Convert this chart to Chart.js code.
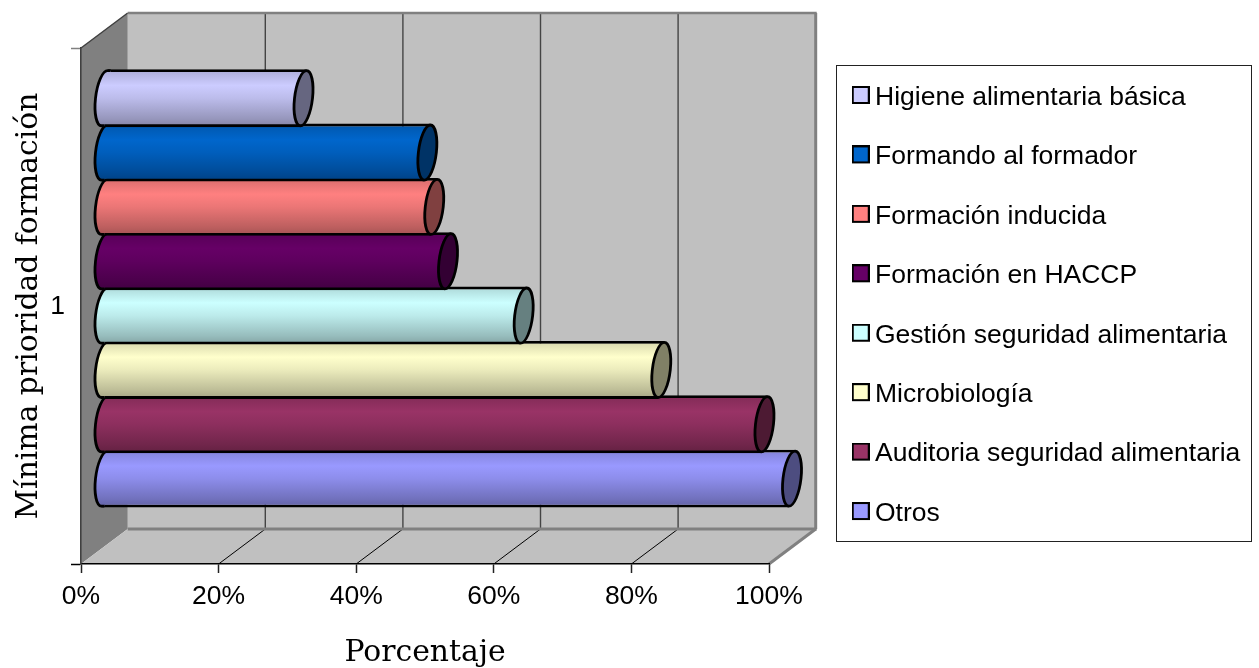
<!DOCTYPE html>
<html><head><meta charset="utf-8">
<style>html,body{margin:0;padding:0;background:#fff;overflow:hidden}canvas{display:block}</style>
<script src="https://cdn.jsdelivr.net/npm/chart.js@4"></script>
</head><body><canvas id="c" width="1259" height="668"></canvas>
<script>
const categories = ['1'];
const seriesNames = ['Higiene alimentaria básica','Formando al formador','Formación inducida','Formación en HACCP','Gestión seguridad alimentaria','Microbiología','Auditoria seguridad alimentaria','Otros'];
const seriesValues = [29,47,48,50,61,81,96,100];
const seriesColors = ['#CCCCFF','#0066CC','#FF8080','#660066','#CCFFFF','#FFFFCC','#993366','#9999FF'];
const xTitle = 'Porcentaje';
const yTitle = 'Mínima prioridad formación';

const SANS = '"Liberation Sans", Arial, sans-serif';
const SERIF = '"DejaVu Serif", serif';
const WALL_DX = 46.7, WALL_DY = 35;
const BAR_DX = 23, BAR_DY = -17.6, SHEAR = -0.11, CAP_RX = 9, LINE = 2.8;

function shade(hex, f){
  const n = parseInt(hex.slice(1),16);
  const c = [n>>16&255,n>>8&255,n&255].map(v=>Math.round(v*f));
  return `rgb(${c[0]},${c[1]},${c[2]})`;
}
function swatch(color){
  // taller than the square so the square sits slightly above the text's centre line
  const s = document.createElement('canvas'); s.width = 18; s.height = 23;
  const g = s.getContext('2d');
  g.fillStyle = '#000'; g.fillRect(0,0,18,18);
  g.fillStyle = color; g.fillRect(2,2,14,14);
  return s;
}
function poly(ctx, pts, fill){
  ctx.beginPath(); pts.forEach((p,i)=> i?ctx.lineTo(p[0],p[1]):ctx.moveTo(p[0],p[1])); ctx.closePath();
  ctx.fillStyle = fill; ctx.fill();
}
function line(ctx,x1,y1,x2,y2,color,w){
  ctx.beginPath(); ctx.moveTo(x1,y1); ctx.lineTo(x2,y2); ctx.strokeStyle=color; ctx.lineWidth=w; ctx.stroke();
}

const scene = {
  id:'scene',
  afterLayout(chart){
    const l = chart.legend;
    const pad = l.options.labels.padding;
    l.left = 859.75 - pad; l.right = l.left + l.width;
    l.top = 97.5 - 13.25 - pad; l.bottom = l.top + l.height;
  },
  beforeDraw(chart){
    const {ctx, chartArea:a, scales:{x}} = chart;
    ctx.save();
    const L=a.left,R=a.right,T=a.top,B=a.bottom,dx=WALL_DX,dy=WALL_DY;
    poly(ctx,[[L+dx,T-dy],[R+dx,T-dy],[R+dx,B-dy],[L+dx,B-dy]],'#C0C0C0');
    poly(ctx,[[L,T],[L+dx,T-dy],[L+dx,B-dy],[L,B]],'#808080');
    poly(ctx,[[L,B],[L+dx,B-dy],[R+dx,B-dy],[R,B]],'#C0C0C0');
    line(ctx,L,T,L+dx,T-dy,'#404040',1.5);
    x.ticks.forEach(t=>{
      const p = x.getPixelForValue(t.value);
      if(t.value>0 && t.value<100){
        line(ctx,p+dx,T-dy,p+dx,B-dy,'#444',1.4);
        line(ctx,p,B,p+dx,B-dy,'#000',1);
      }
    });
    line(ctx,L+dx,T-dy,R+dx+1,T-dy,'#808080',2.6);
    line(ctx,L+dx,B-dy,R+dx+1,B-dy,'#808080',3);
    line(ctx,R+dx,T-dy,R+dx,B-dy,'#808080',3);
    line(ctx,R,B,R+dx,B-dy,'#808080',3);
    ctx.strokeStyle='#222'; ctx.lineWidth=1;
    ctx.strokeRect(836.5,65.5,415,476);
    ctx.restore();
  },
  beforeDatasetDraw(chart,args){
    const ctx = chart.ctx, el = args.meta.data[0], color = seriesColors[args.index];
    const top = el.y - el.height/2, bot = el.y + el.height/2;
    const g = ctx.createLinearGradient(0,top,0,bot);
    g.addColorStop(0,shade(color,.84));
    g.addColorStop(.28,shade(color,1));
    g.addColorStop(.5,shade(color,.92));
    g.addColorStop(.85,shade(color,.74));
    g.addColorStop(1,shade(color,.64));
    el.options = Object.assign({},el.options,{backgroundColor:g});
    el.$grad = g;
    ctx.save();
    ctx.translate(BAR_DX,BAR_DY);
    ctx.translate(0,el.y); ctx.transform(1,0,SHEAR,1,0,0); ctx.translate(0,-el.y);
  },
  afterDatasetDraw(chart,args){
    const ctx = chart.ctx, el = args.meta.data[0], color = seriesColors[args.index];
    const ry = (el.height-LINE)/2, x0 = el.base;
    ctx.beginPath();
    ctx.moveTo(x0+3,el.y+ry);
    ctx.lineTo(x0,el.y+ry);
    ctx.ellipse(x0,el.y,CAP_RX,ry,0,Math.PI/2,Math.PI*1.5);
    ctx.lineTo(x0+3,el.y-ry);
    ctx.fillStyle = el.$grad; ctx.fill();
    ctx.strokeStyle='#000'; ctx.lineWidth=LINE; ctx.stroke();
    ctx.beginPath();
    ctx.ellipse(el.x,el.y,CAP_RX,ry,0,0,Math.PI*2);
    ctx.fillStyle = shade(color,.5); ctx.fill();
    ctx.strokeStyle='#000'; ctx.lineWidth=LINE; ctx.stroke();
    ctx.restore();
  }
};

new Chart(document.getElementById('c'),{
  type:'bar',
  plugins:[scene],
  data:{
    labels:categories,
    datasets:seriesNames.map((name,i)=>({
      label:name,
      data:[seriesValues[i]],
      backgroundColor:seriesColors[i],
      borderColor:'#000',
      borderWidth:{top:LINE,bottom:LINE,left:0,right:0},
      borderSkipped:false,
      inflateAmount:0,
      clip:false,
      categoryPercentage:.8425,
      barPercentage:1.066
    }))
  },
  options:{
    indexAxis:'y',
    responsive:false,
    animation:false,
    layout:{padding:{left:0,top:48,right:490,bottom:0}},
    events:[],
    plugins:{
      tooltip:{enabled:false},
      legend:{
        position:'chartArea',
        align:'start',
        labels:{
          usePointStyle:true,
          pointStyleWidth:2,
          padding:32.93,
          color:'#000',
          font:{family:SANS,size:26.5,lineHeight:1.2},
          generateLabels:chart=>chart.data.datasets.map((d,i)=>({
            text:d.label,datasetIndex:i,pointStyle:swatch(seriesColors[i]),
            fillStyle:seriesColors[i],strokeStyle:'#000',lineWidth:0,fontColor:'#000'
          }))
        }
      }
    },
    scales:{
      x:{
        type:'linear',min:0,max:100,
        afterFit:s=>{s.height=104},
        border:{color:'#000',width:1.6},
        grid:{drawOnChartArea:false,tickLength:9,tickColor:'#222',tickWidth:1.5},
        ticks:{stepSize:20,maxRotation:0,autoSkip:false,padding:10,color:'#000',font:{family:SANS,size:26.5,lineHeight:1},callback:v=>v+'%'},
        title:{display:true,text:xTitle,color:'#000',font:{family:SERIF,size:29.8,lineHeight:1},padding:{top:0,bottom:0}}
      },
      y:{
        type:'category',
        afterFit:s=>{s.width=81},
        border:{color:'#404040',width:1.6},
        grid:{drawOnChartArea:false,tickLength:10,tickWidth:1.5,tickColor:c=>c.index===0?'#808080':'#000'},
        ticks:{padding:6,labelOffset:1,color:'#000',font:{family:SANS,size:26.5,lineHeight:1}},
        title:{display:true,text:yTitle,color:'#000',font:{family:SERIF,size:29.8,lineHeight:1},padding:{top:14.5,bottom:0}}
      }
    }
  }
});
</script></body></html>
